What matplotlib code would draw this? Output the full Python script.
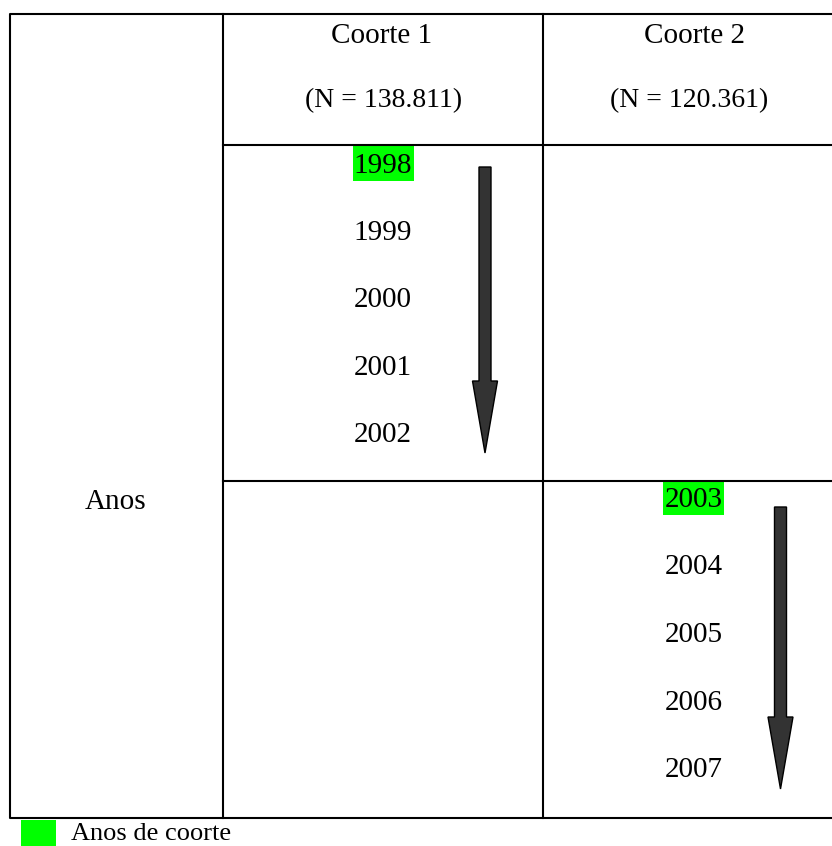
import matplotlib
matplotlib.use('Agg')
import matplotlib.pyplot as plt
from matplotlib.patches import Rectangle, Polygon

plt.rcParams['font.family'] = ['Liberation Serif', 'DejaVu Serif']

coortes = ['Coorte 1', 'Coorte 2']
n_coorte = ['138.811', '120.361']
anos_c1 = ['1998', '1999', '2000', '2001', '2002']
anos_c2 = ['2003', '2004', '2005', '2006', '2007']
row_label = 'Anos'
legend_label = 'Anos de coorte'

W, H = 832, 846
fig = plt.figure(figsize=(W / 100, H / 100), dpi=100)
ax = fig.add_axes([0, 0, 1, 1])
ax.set_xlim(0, W)
ax.set_ylim(H, 0)
ax.axis('off')

green = '#00ff00'
lw = 1.5

# grade da tabela (layout em pixels)
left, right = 10, 834
top, bottom = 14, 818
c1, c2 = 223, 543
h_head, h_mid = 145, 481

ax.plot([right, left, left, right], [top, top, bottom, bottom], color='black', lw=lw)
ax.plot([c1, c1], [top, bottom], color='black', lw=lw)
ax.plot([c2, c2], [top, bottom], color='black', lw=lw)
ax.plot([c1, right], [h_head, h_head], color='black', lw=lw)
ax.plot([c1, right], [h_mid, h_mid], color='black', lw=lw)

# cabecalho
name_x = [382, 694]
n_x = [383.5, 689]
for i in range(len(coortes)):
    ax.text(name_x[i], 43, coortes[i], ha='center', va='baseline', fontsize=21)
    ax.text(n_x[i], 107, '(N = %s)' % n_coorte[i], ha='center', va='baseline', fontsize=20)

ax.text(116, 509, row_label, ha='center', va='baseline', fontsize=21)


def draw_years(years, x, y0, step, arrow_x, arrow_top, arrow_tip):
    for i, yr in enumerate(years):
        y = y0 + i * step
        if i == 0:
            ax.add_patch(Rectangle((x - 30.5, y - 27), 61, 35,
                                   facecolor=green, edgecolor='none'))
        ax.text(x, y, yr, ha='center', va='baseline', fontsize=21)
    # seta
    sw, hw, hl = 6, 12.5, 72
    pts = [(arrow_x - sw, arrow_top), (arrow_x + sw, arrow_top),
           (arrow_x + sw, arrow_tip - hl), (arrow_x + hw, arrow_tip - hl),
           (arrow_x, arrow_tip), (arrow_x - hw, arrow_tip - hl),
           (arrow_x - sw, arrow_tip - hl)]
    ax.add_patch(Polygon(pts, closed=True, facecolor='#333333', edgecolor='black', lw=1))


draw_years(anos_c1, 383, 173, 67.2, 485, 167, 453)
draw_years(anos_c2, 693.5, 507, 67.5, 780.5, 507, 789)

# legenda
ax.add_patch(Rectangle((21, 820), 35, 26, facecolor=green, edgecolor='none'))
ax.text(71, 840, legend_label, ha='left', va='baseline', fontsize=19)

fig.savefig('out.png', dpi=100)
